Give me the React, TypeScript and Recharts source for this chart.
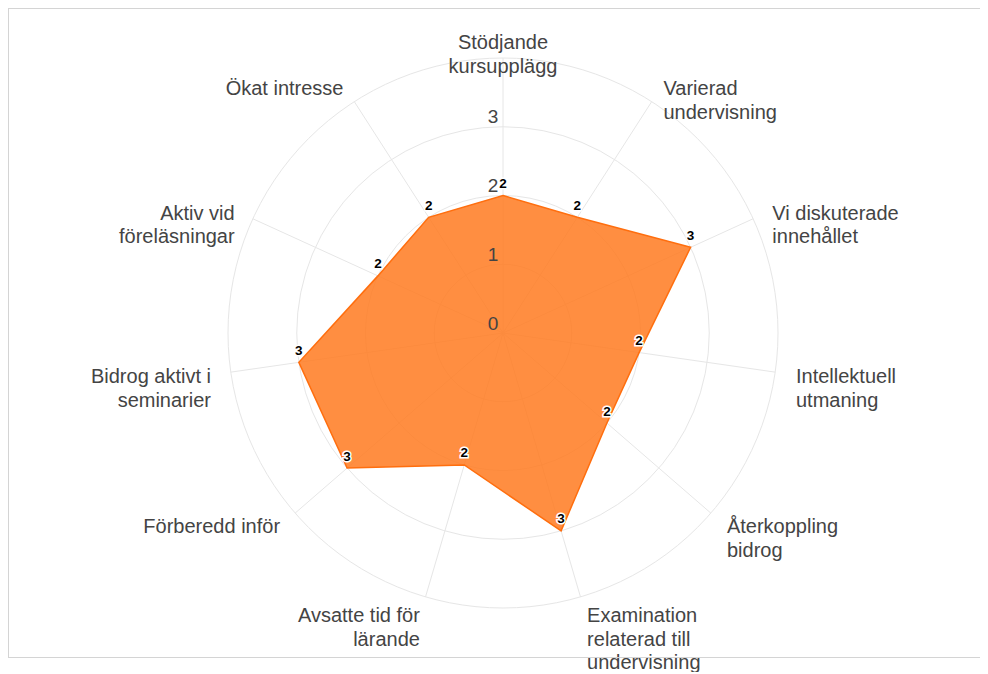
import React from "react"
import {
    RadarChart,
    Radar,
    PolarGrid,
    PolarAngleAxis,
    PolarRadiusAxis,
} from "recharts"

const categories = [
    "Stödjande\nkursupplägg",
    "Varierad\nundervisning",
    "Vi diskuterade\ninnehållet",
    "Intellektuell\nutmaning",
    "Återkoppling\nbidrog",
    "Examination\nrelaterad till\nundervisning",
    "Avsatte tid för\nlärande",
    "Förberedd inför",
    "Bidrog aktivt i\nseminarier",
    "Aktiv vid\nföreläsningar",
    "Ökat intresse",
]

const scores = [2, 2, 3, 2, 2, 3, 2, 3, 3, 2, 2]

const radiusTicks = [0, 1, 2, 3, 4]
const radiusTickLabels = ["0", "1", "2", "3", ""]

const data = categories.map((name, i) => ({ name, value: scores[i] }))

const W = 980
const BOX_H = 650
const H = 664
const CX = 495
const CY = 325
const R = 275
const FONT = "'Liberation Sans', Arial, Helvetica, sans-serif"

const AngleTick = (props: any) => {
    const i = props.index ?? 0
    const theta = (i * 2 * Math.PI) / categories.length
    const dx = Math.sin(theta)
    const dy = -Math.cos(theta)
    const lines = String(props.payload?.value ?? "").split("\n")
    let anchor: "start" | "middle" | "end" = "middle"
    let x = CX
    if (dx > 0.1) {
        anchor = "start"
        x = CX + dx * 295 + 1
    } else if (dx < -0.1) {
        anchor = "end"
        x = CX + dx * 295
    }
    const y0 = CY + dy * 292.5 + 1.5
    return (
        <text textAnchor={anchor} fill="#444" fontSize={20} fontFamily={FONT}>
            {lines.map((l, k) => (
                <tspan key={k} x={x} y={y0 + k * 23.5} dominantBaseline="central">
                    {l}
                </tspan>
            ))}
        </text>
    )
}

const RadiusTick = (props: any) => {
    const idx = radiusTicks.indexOf(props.payload?.value)
    const label = idx >= 0 ? radiusTickLabels[idx] : ""
    if (!label) return <g />
    return (
        <text
            x={props.x - 10}
            y={props.y - 10}
            textAnchor="middle"
            dominantBaseline="central"
            fill="#444"
            fontSize={19}
            fontFamily={FONT}
        >
            {label}
        </text>
    )
}

const ValueDot = (props: any) => {
    const { cx, cy, index } = props
    const v = scores[index] ?? props.payload?.value
    return (
        <text
            key={`lbl-${index}`}
            x={cx}
            y={cy - 12}
            textAnchor="middle"
            dominantBaseline="central"
            fontSize={13.5}
            fontWeight="bold"
            fontFamily={FONT}
            fill="#000"
            stroke="#fff"
            strokeWidth={3}
            paintOrder="stroke"
        >
            {Math.round(v)}
        </text>
    )
}

export default function App() {
    return (
        <div style={{ position: "relative", width: W, height: H }}>
            <style>{"html,body{overflow:hidden}"}</style>
            <RadarChart
                width={W}
                height={H}
                data={data}
                cx={CX}
                cy={CY}
                outerRadius={R}
                startAngle={90}
                endAngle={-270}
                margin={{ top: 0, right: 0, bottom: 0, left: 0 }}
            >
                <PolarGrid gridType="circle" stroke="#e6e6e6" strokeWidth={1} />
                <PolarAngleAxis
                    dataKey="name"
                    tick={<AngleTick />}
                    tickLine={false}
                    axisLine={false}
                />
                <Radar
                    dataKey="value"
                    stroke="#ff6e0e"
                    strokeWidth={1.5}
                    fill="#ff7a20"
                    fillOpacity={0.85}
                    dot={<ValueDot />}
                    isAnimationActive={false}
                />
                <PolarRadiusAxis
                    angle={90}
                    domain={[0, 4]}
                    ticks={radiusTicks}
                    tickCount={5}
                    tick={<RadiusTick />}
                    axisLine={false}
                    tickLine={false}
                />
            </RadarChart>
            <div
                style={{
                    position: "absolute",
                    left: 0,
                    top: 0,
                    width: W + 20,
                    height: BOX_H,
                    borderTop: "1px solid #d4d4d4",
                    borderLeft: "1px solid #d4d4d4",
                    borderBottom: "1px solid #d4d4d4",
                    boxSizing: "border-box",
                    pointerEvents: "none",
                }}
            />
        </div>
    )
}
